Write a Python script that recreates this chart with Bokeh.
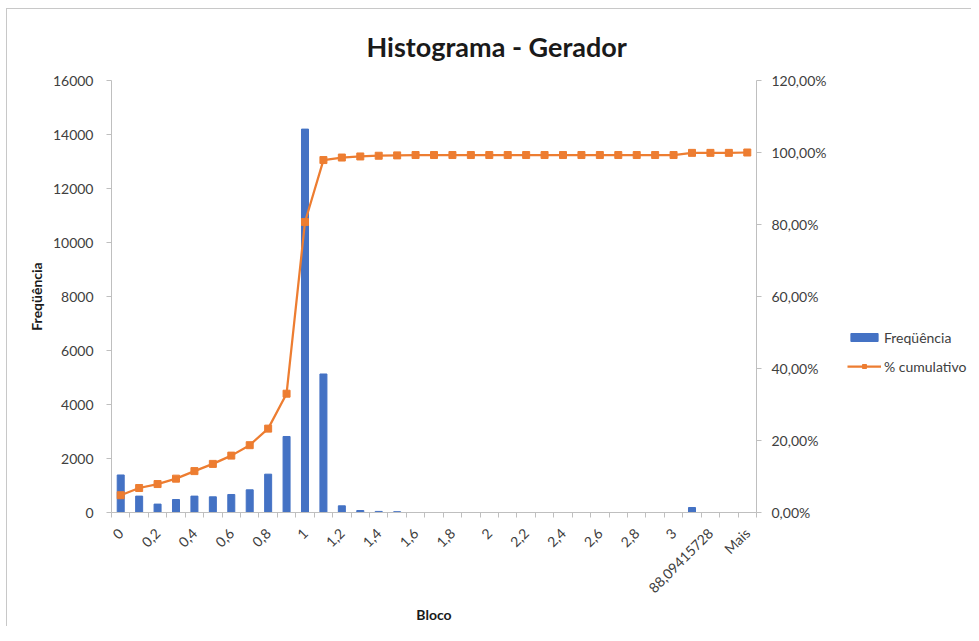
import math
from bokeh.plotting import figure
from bokeh.layouts import row
from bokeh.models import Range1d, LinearAxis, FixedTicker, Legend, LegendItem, Title
from bokeh.embed import file_html
from bokeh.resources import INLINE

categories = ["0", "0,1", "0,2", "0,3", "0,4", "0,5", "0,6", "0,7", "0,8", "0,9",
              "1", "1,1", "1,2", "1,3", "1,4", "1,5", "1,6", "1,7", "1,8", "1,9",
              "2", "2,1", "2,2", "2,3", "2,4", "2,5", "2,6", "2,7", "2,8", "2,9",
              "3", "", "88,09415728", "", "Mais"]
frequencia = [1390, 607, 311, 481, 607, 581, 667, 840, 1420, 2815,
              14200, 5130, 248, 74, 40, 30, 0, 0, 0, 0,
              0, 0, 0, 0, 0, 0, 0, 0, 0, 0,
              0, 185, 0, 0, 0]
cumulativo = [4.8, 6.8, 7.9, 9.4, 11.5, 13.5, 15.8, 18.7, 23.3, 33.0,
              80.7, 97.9, 98.6, 98.9, 99.1, 99.2, 99.3, 99.3, 99.3, 99.3,
              99.3, 99.3, 99.3, 99.3, 99.3, 99.3, 99.3, 99.3, 99.3, 99.3,
              99.3, 99.9, 99.9, 99.9, 100.0]
left_ticks = [0, 2000, 4000, 6000, 8000, 10000, 12000, 14000, 16000]
right_ticks = [0, 20, 40, 60, 80, 100, 120]
series_names = ["Freqüência", "% cumulativo"]

FONT = "Lato"
TICK_COLOR = "#404040"
AXIS_COLOR = "#bfbfbf"
BLUE = "#4472C4"
ORANGE = "#ED7D31"

n = len(categories)
xs = list(range(n))

p = figure(frame_width=645, frame_height=432,
           min_border_left=104, min_border_right=75,
           min_border_top=71, min_border_bottom=114,
           x_range=Range1d(-0.5, n - 0.5), y_range=Range1d(0, 16000),
           output_backend="svg", toolbar_location=None)
p.extra_y_ranges = {"pct": Range1d(0, 120)}
p.xgrid.visible = False
p.ygrid.visible = False
p.outline_line_color = None

p.title = Title(text="Histograma - Gerador", align="left", offset=255,
                vertical_align="middle",
                text_font=FONT, text_font_size="27px", text_font_style="bold",
                text_color="#1a1a1a", standoff=34)

bars = p.vbar(x=xs, top=frequencia, width=0.38, color=BLUE)
line = p.line(x=xs, y=cumulativo, y_range_name="pct", line_color=ORANGE, line_width=2.25)
marks = p.scatter(x=xs, y=cumulativo, y_range_name="pct", marker="square", size=7,
                  fill_color=ORANGE, line_color=ORANGE)

# x axis
xa = p.xaxis[0]
xa.ticker = FixedTicker(ticks=xs[::2], minor_ticks=[i - 0.5 for i in range(n + 1)])
xa.major_label_overrides = {i: categories[i] for i in xs[::2]}
xa.major_label_orientation = math.pi / 4
xa.major_tick_line_color = None
xa.major_tick_out = 5
xa.major_tick_in = 0
xa.minor_tick_out = 5
xa.minor_tick_in = 0
xa.minor_tick_line_color = AXIS_COLOR
xa.axis_line_color = AXIS_COLOR
xa.major_label_text_font = FONT
xa.major_label_text_font_size = "14px"
xa.major_label_text_color = TICK_COLOR
xa.major_label_standoff = 13
xa.axis_label = "Bloco"
xa.axis_label_text_font = FONT
xa.axis_label_text_font_size = "14px"
xa.axis_label_text_font_style = "bold"
xa.axis_label_text_color = "#1a1a1a"
xa.axis_label_standoff = 1

# left axis
ya = p.yaxis[0]
ya.ticker = FixedTicker(ticks=left_ticks)
ya.minor_tick_line_color = None
ya.major_tick_out = 5
ya.major_tick_in = 0
ya.major_tick_line_color = AXIS_COLOR
ya.axis_line_color = AXIS_COLOR
ya.major_label_text_font = FONT
ya.major_label_text_font_size = "14px"
ya.major_label_text_color = TICK_COLOR
ya.major_label_standoff = 13
ya.axis_label = "Freqüência"
ya.axis_label_text_font = FONT
ya.axis_label_text_font_size = "14px"
ya.axis_label_text_font_style = "bold"
ya.axis_label_text_color = "#1a1a1a"
ya.axis_label_standoff = 5

# right axis
ra = LinearAxis(y_range_name="pct", ticker=FixedTicker(ticks=right_ticks))
ra.major_label_overrides = {t: f"{t},00%" for t in right_ticks}
ra.minor_tick_line_color = None
ra.major_tick_out = 5
ra.major_tick_in = 0
ra.major_tick_line_color = AXIS_COLOR
ra.axis_line_color = AXIS_COLOR
ra.major_label_text_font = FONT
ra.major_label_text_font_size = "14px"
ra.major_label_text_color = TICK_COLOR
ra.major_label_standoff = 10
p.add_layout(ra, "right")

# legend panel (separate figure so the legend is not clipped by the plot frame)
lf = figure(width=140, height=617, min_border=0, x_range=Range1d(0, 1), y_range=Range1d(0, 1),
            x_axis_location=None, y_axis_location=None,
            output_backend="svg", toolbar_location=None)
lf.grid.visible = False
lf.outline_line_color = None
# swatch renderers kept outside the visible range; only their legend glyphs show
lb = lf.vbar(x=[5], top=[1], width=0.38, color=BLUE)
ll = lf.line(x=[5, 6], y=[5, 5], line_color=ORANGE, line_width=2.25)
lm = lf.scatter(x=[5], y=[5], marker="square", size=7, fill_color=ORANGE, line_color=ORANGE)

legend = Legend(items=[LegendItem(label=series_names[0], renderers=[lb]),
                       LegendItem(label=series_names[1], renderers=[ll, lm])],
                location=(16, 136), orientation="vertical",
                glyph_width=34, glyph_height=10, label_height=20, spacing=9,
                label_standoff=3, padding=0, margin=0,
                border_line_color=None, background_fill_alpha=0,
                label_text_font=FONT, label_text_font_size="14px",
                label_text_color=TICK_COLOR)
lf.add_layout(legend, "center")

layout = row(p, lf, styles={"margin-left": "6px", "margin-top": "8px",
                            "border-top": "1px solid #c8c8c8",
                            "border-left": "1px solid #c8c8c8"})

open("out.html", "w").write(file_html(layout, INLINE))
